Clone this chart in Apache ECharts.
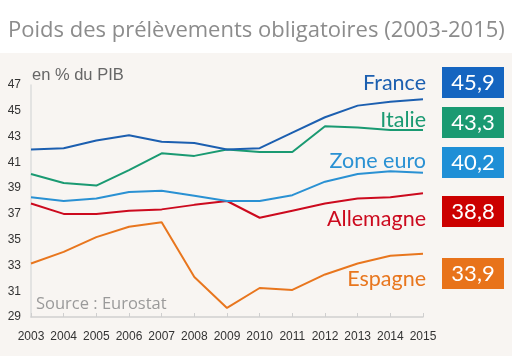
<!DOCTYPE html>
<html><head><meta charset="utf-8">
<script src="https://cdn.jsdelivr.net/npm/echarts@6/dist/echarts.min.js"></script>
<style>html,body{margin:0;padding:0;background:#fff}#c{width:512px;height:356px}</style>
</head><body><div id="c"></div>
<script>
const years = ['2003','2004','2005','2006','2007','2008','2009','2010','2011','2012','2013','2014','2015'];
const france    = [42.0,42.1,42.7,43.1,42.6,42.5,42.0,42.1,43.3,44.5,45.4,45.7,45.9];
const italie    = [40.1,39.4,39.2,40.4,41.7,41.5,42.0,41.8,41.8,43.8,43.7,43.5,43.5];
const zoneEuro  = [38.3,38.0,38.2,38.7,38.8,38.4,38.0,38.0,38.45,39.5,40.1,40.3,40.2];
const allemagne = [37.8,37.0,37.0,37.25,37.35,37.7,38.0,36.7,37.25,37.8,38.2,38.3,38.6];
const espagne   = [33.15,34.05,35.2,36.0,36.35,32.1,29.7,31.25,31.1,32.3,33.15,33.75,33.9];
const seriesNames = ['France','Italie','Zone euro','Allemagne','Espagne'];
const headline = ['45,9','43,3','40,2','38,8','33,9'];
const yTicks = {min:29, max:47, interval:2};

const colors = ['#1c5fb0','#1a9a72','#2a91d3','#cc0a1e','#e8761e'];
const boxColors = ['#1565c0','#1a9a72','#1f8fd6','#cc0000','#e8731a'];
const data = [france, italie, zoneEuro, allemagne, espagne];
const labelY = [83, 120, 161, 219, 279];
const boxY = [67, 107, 147, 196, 258];

const font = 'Lato, "Open Sans", sans-serif';
const wide = '"Open Sans", sans-serif';
const sans = '"Liberation Sans", Arial, sans-serif';
const graphics = [
  {type:'rect', shape:{x:0,y:53,width:512,height:303}, style:{fill:'#f8f5f2'}, z:-10, silent:true},
  {type:'text', x:8, y:31, style:{text:'Poids des prélèvements obligatoires (2003-2015)', font:'22px '+wide, fill:'#8c8c8c', textVerticalAlign:'middle'}},
  {type:'text', x:32, y:75, style:{text:'en % du PIB', font:'16.5px '+sans, fill:'#666', textVerticalAlign:'middle'}},
  {type:'text', x:36, y:304, style:{text:'Source : Eurostat', font:'16.5px '+wide, fill:'#9a9a9a', textVerticalAlign:'middle'}, z:5}
];
seriesNames.forEach((n,i)=>{
  graphics.push({type:'text', x:426, y:labelY[i], style:{text:n, font:'21.5px '+font, fill:colors[i], textAlign:'right', textVerticalAlign:'middle'}});
  graphics.push({type:'rect', shape:{x:442,y:boxY[i],width:62,height:31}, style:{fill:boxColors[i]}});
  graphics.push({type:'text', x:473, y:boxY[i]+16, style:{text:headline[i], font:'22px '+font, fill:'#fff', textAlign:'center', textVerticalAlign:'middle'}});
});

const chart = echarts.init(document.getElementById('c'), null, {renderer:'canvas'});
chart.setOption({
  animation:false,
  backgroundColor:'#fff',
  grid:{left:31, right:89, top:85, bottom:39},
  xAxis:{type:'category', data:years, boundaryGap:false,
    axisLine:{lineStyle:{color:'#cfcfcf', width:1.5}},
    axisTick:{inside:true, length:4, interval:0, lineStyle:{color:'#cfcfcf'}},
    axisLabel:{color:'#333', fontSize:12, fontFamily:sans, margin:14, interval:0}},
  yAxis:{type:'value', min:yTicks.min, max:yTicks.max, interval:yTicks.interval,
    splitLine:{show:false},
    axisLine:{show:true, lineStyle:{color:'#dcdcdc', width:1.5}},
    axisTick:{show:false},
    axisLabel:{color:'#333', fontSize:12, fontFamily:sans, margin:10}},
  series: data.map((d,i)=>({name:seriesNames[i], type:'line', data:d, symbol:'none',
    lineStyle:{color:colors[i], width:2}, z:10-i})),
  graphic: graphics
});
</script></body></html>
